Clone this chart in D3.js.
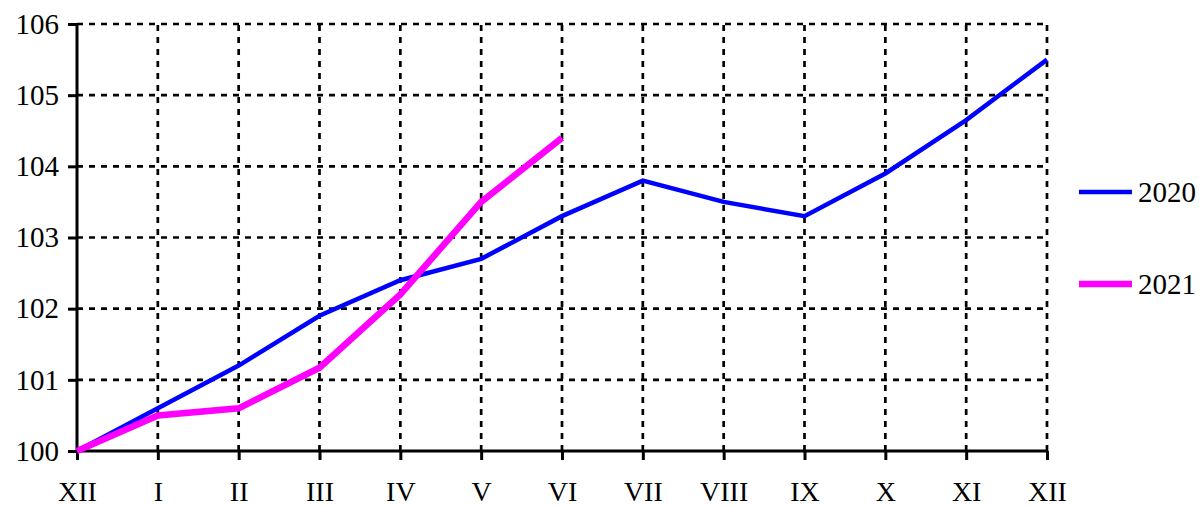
<!DOCTYPE html>
<html>
<head>
<meta charset="utf-8">
<script src="https://cdn.jsdelivr.net/npm/d3@7"></script>
<style>
  body { margin: 0; background: #fff; }
  svg text { font-family: "Liberation Serif", "DejaVu Serif", serif; fill: #000; }
</style>
</head>
<body>
<svg id="chart" width="1200" height="507"></svg>
<script>
// months on the x axis (Dec of previous year through Dec)
var months = ["XII", "I", "II", "III", "IV", "V", "VI", "VII", "VIII", "IX", "X", "XI", "XII"];
var y_ticks = [100, 101, 102, 103, 104, 105, 106];

var values_2020 = [100, 100.6, 101.2, 101.9, 102.4, 102.7, 103.3, 103.8, 103.5, 103.3, 103.9, 104.65, 105.5];
var values_2021 = [100, 100.5, 100.6, 101.17, 102.2, 103.5, 104.4];

var series = [
  {name: "2020", values: values_2020, color: "#0000ff", width: 4.5},
  {name: "2021", values: values_2021, color: "#ff00ff", width: 6.5}
];

var plot_left = 77, plot_right = 1047, plot_top = 24, plot_bottom = 451;

var svg = d3.select("#chart");

var x = d3.scaleLinear().domain([0, months.length - 1]).range([plot_left, plot_right]);
var y = d3.scaleLinear().domain([100, 106]).range([plot_bottom, plot_top]);

// grid
var grid = svg.append("g");
grid.selectAll(".hgrid")
  .data(y_ticks.slice(1))
  .enter()
  .append("line")
    .attr("x1", plot_left).attr("x2", plot_right)
    .attr("y1", function(d){return y(d);}).attr("y2", function(d){return y(d);})
    .attr("stroke", "#000").attr("stroke-width", 2.7)
    .attr("stroke-dasharray", "6,6");
grid.selectAll(".vgrid")
  .data(d3.range(1, months.length))
  .enter()
  .append("line")
    .attr("x1", function(d){return x(d);}).attr("x2", function(d){return x(d);})
    .attr("y1", plot_bottom).attr("y2", plot_top)
    .attr("stroke", "#000").attr("stroke-width", 2.7)
    .attr("stroke-dasharray", "6,6");

// axes
var y_axis = d3.axisLeft(y).tickValues(y_ticks).tickSize(9).tickPadding(9).tickFormat(d3.format("d"));
var gy = svg.append("g").attr("transform", "translate(" + plot_left + ",0)").call(y_axis);
var x_axis = d3.axisBottom(x).tickValues(d3.range(months.length)).tickSize(9).tickPadding(21)
  .tickFormat(function(d){return months[d];});
var gx = svg.append("g").attr("transform", "translate(0," + plot_bottom + ")").call(x_axis);

[gy, gx].forEach(function(g){
  g.select(".domain").attr("stroke", "#000").attr("stroke-width", 3);
  g.selectAll(".tick line").attr("stroke", "#000").attr("stroke-width", 3);
  g.selectAll(".tick text").attr("font-size", 29).attr("font-family", "Liberation Serif").attr("fill", "#000");
});
gx.selectAll(".tick text").attr("font-size", 28);
gy.select(".domain").attr("d", "M0," + plot_bottom + "V" + plot_top);
gx.select(".domain").attr("d", "M" + plot_left + ",0H" + plot_right);

// lines
var line = d3.line()
  .x(function(d, i){return x(i);})
  .y(function(d){return y(d);});

svg.selectAll(".series")
  .data(series)
  .enter()
  .append("path")
    .attr("fill", "none")
    .attr("stroke", function(d){return d.color;})
    .attr("stroke-width", function(d){return d.width;})
    .attr("stroke-linejoin", "miter")
    .attr("d", function(d){return line(d.values);});

// legend
var legend = svg.selectAll(".legend")
  .data(series)
  .enter()
  .append("g")
    .attr("transform", function(d, i){return "translate(1079," + (192 + i * 92) + ")";});
legend.append("line")
  .attr("x1", 0).attr("x2", 53).attr("y1", 0).attr("y2", 0)
  .attr("stroke", function(d){return d.color;})
  .attr("stroke-width", function(d){return d.width;});
legend.append("text")
  .attr("x", 59).attr("y", 10)
  .attr("font-size", 29)
  .text(function(d){return d.name;});
</script>
</body>
</html>
